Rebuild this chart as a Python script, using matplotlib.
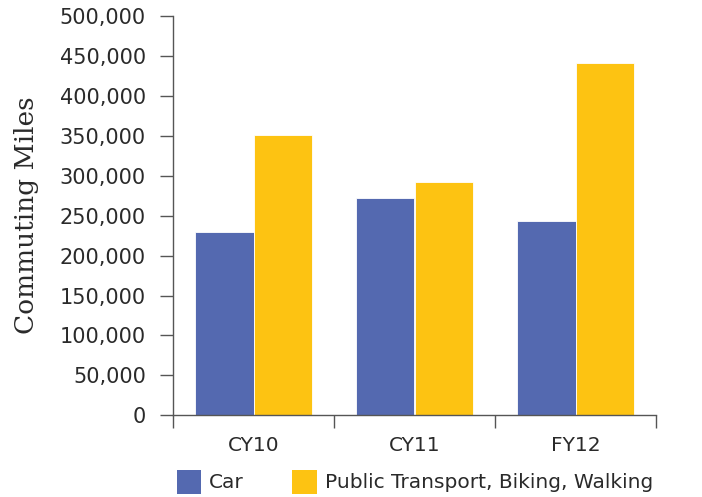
import matplotlib
matplotlib.use("Agg")
import matplotlib.pyplot as plt
import numpy as np
from matplotlib.ticker import FuncFormatter, FixedLocator
from matplotlib.patches import Patch

categories = ["CY10", "CY11", "FY12"]
car = [230000, 272700, 243000]
public = [351000, 292400, 441000]
series_names = ["Car", "Public Transport, Biking, Walking"]
yticks = [0, 50000, 100000, 150000, 200000, 250000, 300000, 350000, 400000, 450000, 500000]

blue = "#5469B0"
yellow = "#FDC312"
txt = "#2a2a2a"
sans = ["DejaVu Sans"]

fig = plt.figure(figsize=(7.02, 4.97), dpi=100)
ax = fig.add_axes([173/702, 1-415.3/497, (656-173)/702, (415.3-16)/497])

x = np.arange(len(categories))
w = 0.362
ax.bar(x - w/2, car, w, color=blue, edgecolor="white", linewidth=0.6)
ax.bar(x + w/2, public, w, color=yellow, edgecolor="white", linewidth=0.6)

ax.set_xlim(-0.5, 2.5)
ax.set_ylim(0, 500000)
ax.set_yticks(yticks)
ax.yaxis.set_major_formatter(FuncFormatter(lambda v, p: f"{int(v):,}"))

ax.xaxis.set_major_locator(FixedLocator([-0.5, 0.5, 1.5, 2.5]))
ax.xaxis.set_major_formatter(FuncFormatter(lambda v, p: ""))
ax.xaxis.set_minor_locator(FixedLocator(list(x)))
ax.set_xticklabels(categories, minor=True)
ax.tick_params(axis="x", which="minor", length=0, pad=15, labelsize=14.5, labelcolor=txt)
ax.tick_params(axis="x", which="major", length=9.5, width=1.0, color="#555555")
ax.tick_params(axis="y", length=9.5, width=1.0, color="#555555", pad=10, labelsize=15, labelcolor=txt)
for lab in ax.get_xticklabels(minor=True) + ax.get_yticklabels():
    lab.set_family(sans)

for s in ["top", "right"]:
    ax.spines[s].set_visible(False)
for s in ["left", "bottom"]:
    ax.spines[s].set_color("#555555")
    ax.spines[s].set_linewidth(1.0)

ax.set_ylabel("Commuting Miles", family=["DejaVu Serif"], fontsize=19, color=txt, labelpad=15)

handles = [Patch(facecolor=blue), Patch(facecolor=yellow)]
leg = fig.legend(handles, series_names, loc="lower left", bbox_to_anchor=(159/702, -0.03),
                 ncol=2, frameon=False, handlelength=1.2, handleheight=1.45, handletextpad=0.4,
                 columnspacing=2.4, prop={"family": sans, "size": 14.5})
for t in leg.get_texts():
    t.set_color(txt)

fig.savefig("out.png", dpi=100)
